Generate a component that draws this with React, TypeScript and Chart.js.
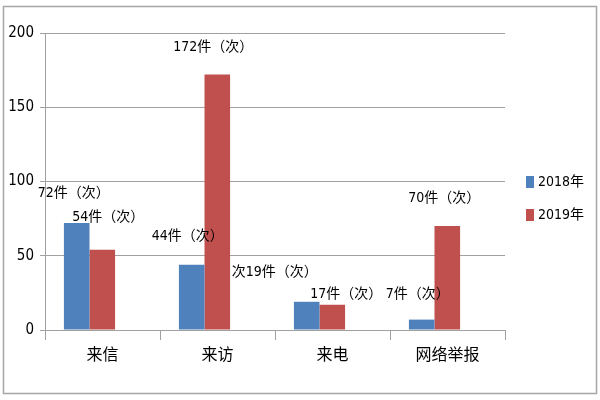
import React, { useEffect, useRef } from "react";
import { Chart, registerables } from "chart.js";

Chart.register(...registerables);

const categories = ["来信", "来访", "来电", "网络举报"];
const seriesNames = ["2018年", "2019年"];
const values2018 = [72, 44, 19, 7];
const values2019 = [54, 172, 17, 70];
const labels2018 = ["72件（次）", "44件（次）", "次19件（次）", "7件（次）"];
const labels2019 = ["54件（次）", "172件（次）", "17件（次）", "70件（次）"];
const yTicks = [0, 50, 100, 150, 200];

const BLUE = "#4F81BD";
const RED = "#C0504D";
const FONT = "'DejaVu Sans Condensed', 'Noto Sans CJK SC', sans-serif";
const BAR_SHIFT = -13;

// label offsets (dx, dy) relative to top-center of each bar
const labelOffsets = [
  [[-3, -30], [-4, -28], [-32, -29], [-4, -25]],
  [[6, -32], [-4, -27], [14, -10], [-3, -28]],
];

const decorPlugin = {
  id: "decor",
  beforeDatasetsDraw(chart: any) {
    chart.ctx.save();
    chart.ctx.translate(BAR_SHIFT, 0);
  },
  afterDatasetsDraw(chart: any) {
    chart.ctx.restore();
  },
  afterDraw(chart: any) {
    const ctx = chart.ctx;
    ctx.save();
    ctx.strokeStyle = "#a6a6a6";
    ctx.lineWidth = 1.5;
    ctx.strokeRect(3.5, 6.5, 593, 387);
    ctx.fillStyle = "#000";
    ctx.font = `14px ${FONT}`;
    ctx.textAlign = "center";
    ctx.textBaseline = "middle";
    const texts = [labels2018, labels2019];
    chart.data.datasets.forEach((ds: any, di: number) => {
      const meta = chart.getDatasetMeta(di);
      meta.data.forEach((bar: any, i: number) => {
        const [dx, dy] = labelOffsets[di][i];
        ctx.fillText(texts[di][i], bar.x + BAR_SHIFT + dx, bar.y + dy);
      });
    });
    ctx.textAlign = "left";
    chart.data.datasets.forEach((ds: any, di: number) => {
      const y = 182 + di * 33;
      ctx.fillStyle = ds.backgroundColor;
      ctx.fillRect(526, y - 6, 8, 12);
      ctx.fillStyle = "#000";
      ctx.fillText(ds.label, 538, y);
    });
    ctx.restore();
  },
};

export default function App() {
  const ref = useRef<HTMLCanvasElement>(null);
  useEffect(() => {
    document.body.style.margin = "0";
    const chart = new Chart(ref.current!, {
      type: "bar",
      data: {
        labels: categories,
        datasets: [
          { label: seriesNames[0], data: values2018, backgroundColor: BLUE },
          { label: seriesNames[1], data: values2019, backgroundColor: RED },
        ],
      },
      options: {
        animation: false,
        responsive: false,
        layout: { padding: { left: 0, top: 33, right: 95, bottom: 0 } },
        datasets: {
          bar: { categoryPercentage: 0.445, barPercentage: 1 },
        },
        plugins: {
          legend: { display: false },
          tooltip: { enabled: false },
        },
        scales: {
          x: {
            afterFit: (s: any) => { s.height = 70; },
            grid: {
              offset: true,
              drawOnChartArea: false,
              tickLength: 10,
              color: "#a0a0a0",
            },
            border: { color: "#a0a0a0", width: 1 },
            ticks: {
              color: "#000",
              font: { family: FONT, size: 16 },
              padding: 6,
            },
          },
          y: {
            min: 0,
            max: 200,
            afterFit: (s: any) => { s.width = 45; },
            afterBuildTicks: (s: any) => { s.ticks = yTicks.map((v) => ({ value: v })); },
            grid: { color: "#a0a0a0", tickLength: 5 },
            border: { color: "#a0a0a0", width: 1 },
            ticks: {
              color: "#000",
              font: { family: FONT, size: 15 },
              padding: 6,
            },
          },
        },
      },
      plugins: [decorPlugin],
    });
    return () => chart.destroy();
  }, []);
  return (
    <div style={{ position: "absolute", left: 0, top: 0, width: 600, height: 400, background: "#fff" }}>
      <canvas ref={ref} width={600} height={400} />
    </div>
  );
}
